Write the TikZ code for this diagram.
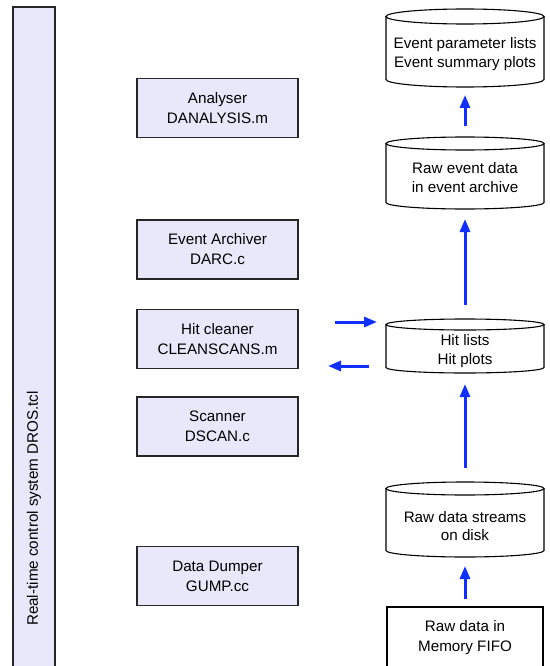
\documentclass[tikz,border=0pt]{standalone}
\usepackage{fontspec}
\setmainfont{Liberation Sans}
\usetikzlibrary{arrows.meta,calc}
\definecolor{boxfill}{RGB}{232,232,250}
\definecolor{arrblue}{RGB}{16,48,255}
\newcommand\drawcyl[2]{%
  \draw[cylline] ($(#1.north west)+(0,#2)$) -- ($(#1.south west)+(0,-#2)$)
     arc[start angle=180,end angle=360,x radius=79pt,y radius=#2pt]
     -- ($(#1.north east)+(0,#2)$);
  \draw[cylline] ($(#1.north)+(0,#2)$) ellipse[x radius=79pt,y radius=#2pt];
}
\begin{document}
\begin{tikzpicture}[x=1pt,y=-1pt,
  txt/.style={font=\fontsize{15.2}{20}\selectfont,align=center,inner sep=0pt},
  prog/.style={txt,draw=black!85,line width=1.2pt,fill=boxfill,minimum width=161pt,minimum height=59pt,outer sep=0pt},
  store/.style={minimum width=158pt,inner sep=0pt,outer sep=0pt},
  storetxt/.style={txt,font=\fontsize{15.2}{18.5}\selectfont},
  cylline/.style={draw=black,line width=1.1pt},
  arr/.style={draw=arrblue,line width=3pt,-{Triangle[length=13pt,width=10pt]}}
]
\useasboundingbox (0,0) rectangle (549,666);
\clip (0,0) rectangle (549,666);
\fill[white] (0,0) rectangle (549,666);

% real-time control system
\node[draw=black!85,line width=1.2pt,fill=boxfill,minimum width=42pt,minimum height=713pt,inner sep=0pt,outer sep=0pt] (dros) at (34,363.5) {};
\node[txt,rotate=90] (drostxt) at (34,508.5) {Real-time control system DROS.tcl};

% programs
\node[prog] (ana) at (217.5,108) {Analyser\\DANALYSIS.m};
\node[prog] (darc) at (217.5,249.5) {Event Archiver\\DARC.c};
\node[prog] (hc) at (217.5,339) {Hit cleaner\\CLEANSCANS.m};
\node[prog] (scan) at (217.5,426.5) {Scanner\\DSCAN.c};
\node[prog] (gump) at (217.5,576) {Data Dumper\\GUMP.cc};

% storage
\node[store,minimum height=78pt] (evp) at (465,48) {};
\drawcyl{evp}{7.5}
\node[storetxt] (evptxt) at (465,54) {Event parameter lists\\Event summary plots};

\node[store,minimum height=72pt] (rev) at (465,173) {};
\drawcyl{rev}{6.5}
\node[storetxt] (revtxt) at (465,177.5) {Raw event data\\in event archive};

\node[store,minimum height=54pt] (hit) at (465,346) {};
\drawcyl{hit}{5.5}
\node[storetxt] (hittxt) at (465,351) {Hit lists\\Hit plots};

\node[store,minimum height=75pt] (rds) at (465,519.5) {};
\drawcyl{rds}{6.5}
\node[storetxt] (rdstxt) at (465,526) {Raw data streams\\on disk};

\node[draw=black,line width=1.1pt,minimum width=156pt,minimum height=93pt,inner sep=0pt,outer sep=0pt] (fifo) at (465,653.5) {};
\node[txt] (fifotxt) at (465,638) {Raw data in\\Memory FIFO};

% arrows
\draw[arr,shorten <=11pt,shorten >=8pt] (rev.north) -- (evp.south);
\draw[arr,shorten <=14pt,shorten >=10pt] (hit.north) -- (rev.south);
\draw[arr,shorten <=14pt,shorten >=11pt] (rds.north) -- (hit.south);
\draw[arr,shorten <=8pt,shorten >=9pt] (fifo.north) -- (rds.south);
\coordinate (r1) at ($(hc.east)+(0,-17)$);
\coordinate (l1) at ($(hc.east)+(0,27)$);
\draw[arr,shorten <=37pt,shorten >=9pt] (r1) -- (r1 -| hit.west);
\draw[arr,shorten <=17pt,shorten >=30pt] (l1 -| hit.west) -- (l1);
\end{tikzpicture}
\end{document}
